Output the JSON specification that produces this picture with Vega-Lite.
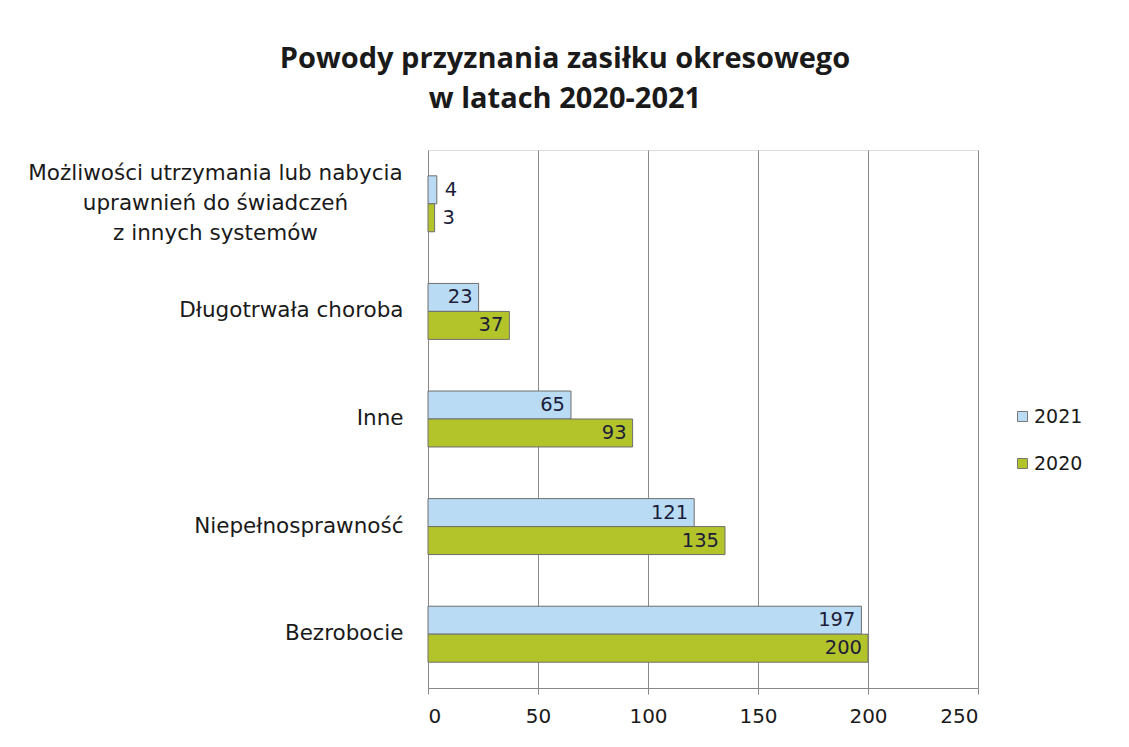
{
  "$schema": "https://vega.github.io/schema/vega-lite/v6.json",
  "width": 550,
  "height": 538,
  "autosize": {"type": "none"},
  "padding": {"left": 428, "top": 150, "right": 151, "bottom": 59},
  "background": "white",
  "title": {
    "text": ["Powody przyznania zasiłku okresowego", "w latach 2020-2021"],
    "font": "Open Sans",
    "fontSize": 29,
    "fontWeight": "bold",
    "color": "#1a1a1a",
    "anchor": "middle",
    "dx": -138,
    "lineHeight": 40,
    "offset": 36
  },
  "data": {
    "values": [
      {"kategoria": "Możliwości utrzymania lub nabycia|uprawnień do świadczeń|z innych systemów", "rok": "2021", "liczba": 4},
      {"kategoria": "Możliwości utrzymania lub nabycia|uprawnień do świadczeń|z innych systemów", "rok": "2020", "liczba": 3},
      {"kategoria": "Długotrwała choroba", "rok": "2021", "liczba": 23},
      {"kategoria": "Długotrwała choroba", "rok": "2020", "liczba": 37},
      {"kategoria": "Inne", "rok": "2021", "liczba": 65},
      {"kategoria": "Inne", "rok": "2020", "liczba": 93},
      {"kategoria": "Niepełnosprawność", "rok": "2021", "liczba": 121},
      {"kategoria": "Niepełnosprawność", "rok": "2020", "liczba": 135},
      {"kategoria": "Bezrobocie", "rok": "2021", "liczba": 197},
      {"kategoria": "Bezrobocie", "rok": "2020", "liczba": 200}
    ]
  },
  "encoding": {
    "y": {
      "field": "kategoria",
      "type": "nominal",
      "sort": null,
      "scale": {"paddingInner": 0.48, "paddingOuter": 0.24},
      "axis": {
        "title": null,
        "labelExpr": "split(datum.label, '|')",
        "labelFont": "DejaVu Sans",
        "labelFontSize": 21.5,
        "labelColor": "#1a1a1a",
        "labelLimit": 420,
        "labelLineHeight": 30,
        "labelAlign": {"condition": {"test": "indexof(datum.value, '|') >= 0", "value": "center"}, "value": "right"},
        "labelPadding": {"condition": {"test": "indexof(datum.value, '|') >= 0", "value": 213}, "value": 25},
        "labelOffset": {"condition": {"test": "indexof(datum.value, '|') >= 0", "value": -30}, "value": 0},
        "ticks": false,
        "domainColor": "#888888",
        "grid": false
      }
    },
    "yOffset": {"field": "rok", "type": "nominal", "sort": ["2021", "2020"]},
    "x": {
      "field": "liczba",
      "type": "quantitative",
      "scale": {"domain": [0, 250]},
      "axis": {
        "title": null,
        "values": [0, 50, 100, 150, 200, 250],
        "labelFont": "DejaVu Sans",
        "labelFontSize": 20,
        "labelColor": "#1a1a1a",
        "labelPadding": 12,
        "tickColor": "#888888",
        "tickSize": 6,
        "domainColor": "#888888",
        "gridColor": "#8a8a8a",
        "gridWidth": 1
      }
    }
  },
  "layer": [
    {
      "mark": {"type": "bar", "stroke": "#6e6e6e", "strokeWidth": 1},
      "encoding": {
        "color": {
          "field": "rok",
          "type": "nominal",
          "sort": ["2021", "2020"],
          "scale": {"domain": ["2021", "2020"], "range": ["#b9dbf3", "#b3c42a"]},
          "legend": {
            "title": null,
            "orient": "none",
            "legendX": 585,
            "legendY": 257,
            "symbolType": "square",
            "symbolSize": 100,
            "symbolStrokeColor": "#777777",
            "symbolStrokeWidth": 1,
            "labelFont": "DejaVu Sans",
            "labelFontSize": 19,
            "labelColor": "#1a1a1a",
            "rowPadding": 27,
            "labelOffset": 2
          }
        }
      }
    },
    {
      "transform": [{"filter": "datum.liczba >= 10"}],
      "mark": {"type": "text", "align": "right", "dx": -6, "font": "DejaVu Sans", "fontSize": 19.5, "color": "#1c1c3a"},
      "encoding": {"text": {"field": "liczba", "type": "quantitative"}}
    },
    {
      "transform": [{"filter": "datum.liczba < 10"}],
      "mark": {"type": "text", "align": "left", "dx": 8, "font": "DejaVu Sans", "fontSize": 19.5, "color": "#1c1c3a"},
      "encoding": {"text": {"field": "liczba", "type": "quantitative"}}
    }
  ]
}
